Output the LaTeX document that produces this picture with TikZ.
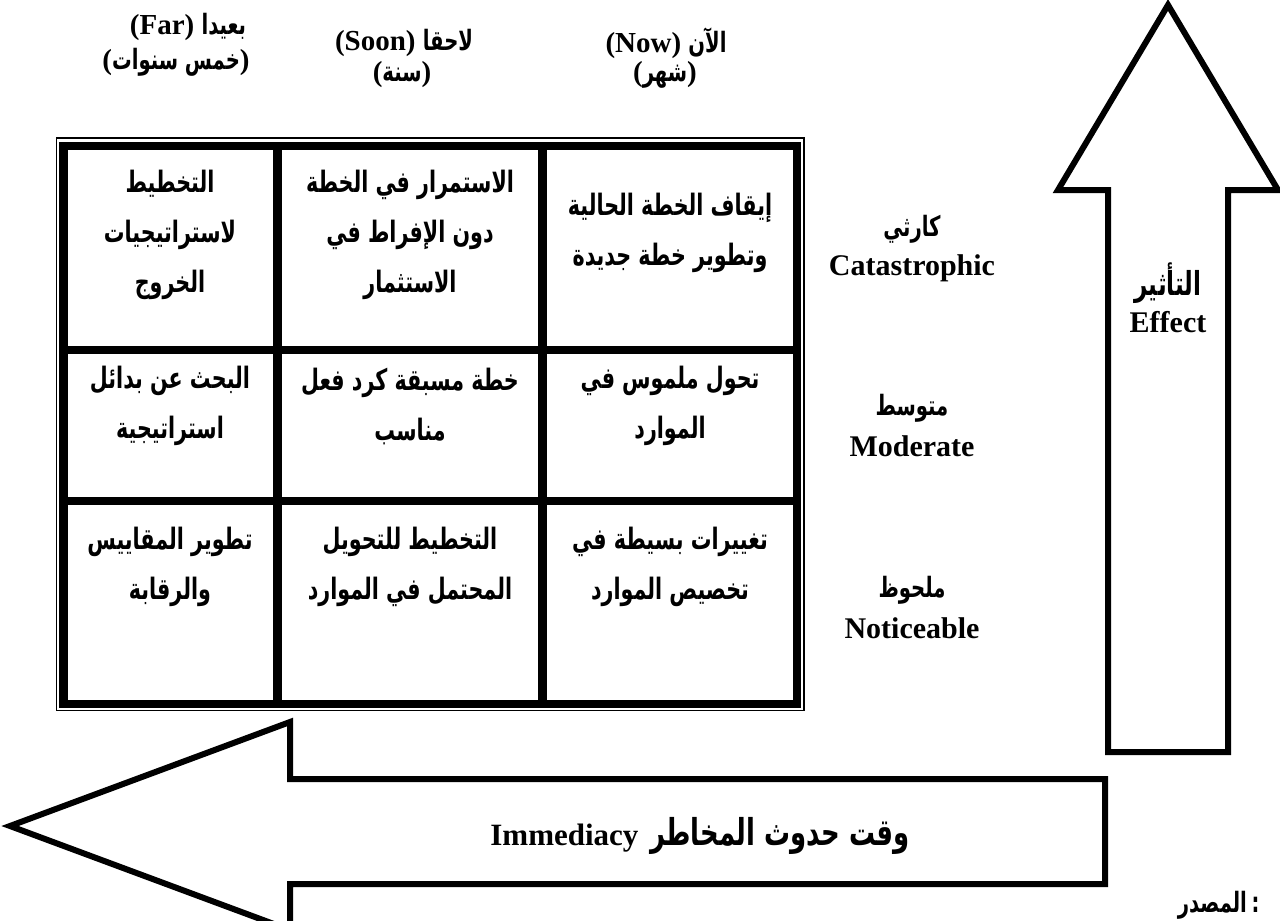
\documentclass[tikz,border=0pt]{standalone}
\usepackage{fontspec}
\setmainfont{Liberation Serif}
\newfontfamily\arabicfont[Script=Arabic,FakeStretch=0.7]{DejaVu Sans}
\TeXXeTstate=1
% one right-to-left run of bold Arabic text
\newcommand{\artxt}[1]{{\arabicfont\bfseries\beginR #1\endR}}
\newcommand{\arsize}[1]{\fontsize{#1}{#1}\selectfont}

\begin{document}
\begin{tikzpicture}[x=1pt,y=-1pt,
  gridline/.style={line width=8.5pt,line cap=rect},
  framethin/.style={line width=1.5pt},
  bigarrow/.style={draw=black,fill=white,line width=6pt,line join=miter},
  celltext/.style={align=center,inner sep=0pt,
    font=\arabicfont\bfseries\fontsize{29.5}{50}\selectfont},
  lat/.style={font=\bfseries\fontsize{30}{32}\selectfont},
  arlevel/.style={font=\arabicfont\bfseries\fontsize{28}{30}\selectfont},
  headlat/.style={font=\bfseries\fontsize{29}{31}\selectfont}]

\useasboundingbox (0,0) rectangle (1280,921);
\clip (0,0) rectangle (1280,921);

% ---------- headers of the time columns ----------
\node[headlat] (hfar1) at (188,27) {(Far) {\arsize{28}\artxt{بعيدا}}};
\node[headlat] (hfar2) at (176,62) {({\arsize{28}\artxt{خمس سنوات}})};
\node[headlat] (hsoon1) at (404,43) {(Soon) {\arsize{28}\artxt{لاحقا}}};
\node[headlat] (hsoon2) at (402,75) {({\arsize{28}\artxt{سنة}})};
\node[headlat] (hnow1) at (666,43) {(Now) {\arsize{28}\artxt{الآن}}};
\node[headlat] (hnow2) at (665,75) {({\arsize{28}\artxt{شهر}})};

% ---------- the 3 x 3 grid ----------
\draw[framethin] (56.5,138) rectangle (804,710.5);
\draw[gridline] (63.5,146) rectangle (797,704);
\draw[gridline] (277.5,146) -- (277.5,704);
\draw[gridline] (542.5,146) -- (542.5,704);
\draw[gridline] (63.5,350) -- (797,350);
\draw[gridline] (63.5,501) -- (797,501);

% row: catastrophic
\node[celltext] (c11) at (170,235) {\beginR التخطيط\endR\\ \beginR لاستراتيجيات\endR\\ \beginR الخروج\endR};
\node[celltext] (c12) at (410,235) {\beginR الاستمرار في الخطة\endR\\ \beginR دون الإفراط في\endR\\ \beginR الاستثمار\endR};
\node[celltext] (c13) at (670,233) {\beginR إيقاف الخطة الحالية\endR\\ \beginR وتطوير خطة جديدة\endR};
% row: moderate
\node[celltext] (c21) at (170,406) {\beginR البحث عن بدائل\endR\\ \beginR استراتيجية\endR};
\node[celltext] (c22) at (410,406) {\beginR خطة مسبقة كرد فعل\endR\\ \beginR مناسب\endR};
\node[celltext] (c23) at (670,406) {\beginR تحول ملموس في\endR\\ \beginR الموارد\endR};
% row: noticeable
\node[celltext] (c31) at (170,567) {\beginR تطوير المقاييس\endR\\ \beginR والرقابة\endR};
\node[celltext] (c32) at (410,567) {\beginR التخطيط للتحويل\endR\\ \beginR المحتمل في الموارد\endR};
\node[celltext] (c33) at (670,567) {\beginR تغييرات بسيطة في\endR\\ \beginR تخصيص الموارد\endR};

% ---------- effect levels ----------
\node[arlevel] (l1a) at (912,229) {\artxt{كارثي}};
\node[lat] (l1b) at (912,268) {Catastrophic};
\node[arlevel] (l2a) at (912,408) {\artxt{متوسط}};
\node[lat] (l2b) at (912,446) {Moderate};
\node[arlevel] (l3a) at (912,590) {\artxt{ملحوظ}};
\node[lat] (l3b) at (912,628) {Noticeable};

% ---------- effect arrow (upwards) ----------
\draw[bigarrow] (1108,752) -- (1108,190) -- (1058,190) -- (1168,5)
  -- (1278,190) -- (1228,190) -- (1228,752) -- cycle;
\node[font=\arabicfont\bfseries\fontsize{33}{35}\selectfont] (effa) at (1168,283) {\artxt{التأثير}};
\node[lat] (effb) at (1168,322) {Effect};

% ---------- immediacy arrow (leftwards) ----------
\draw[bigarrow] (1105,779) -- (290,779) -- (290,722) -- (10,826)
  -- (290,930) -- (290,884) -- (1105,884) -- cycle;
\node[font=\bfseries\fontsize{31}{33}\selectfont] (imm) at (700,836)
  {Immediacy\hspace{12pt}{\arsize{37}\artxt{وقت حدوث المخاطر}}};

% ---------- source line ----------
\node[arlevel,anchor=east] (src) at (1263,905) {\artxt{المصدر}\,:};
\end{tikzpicture}
\end{document}
